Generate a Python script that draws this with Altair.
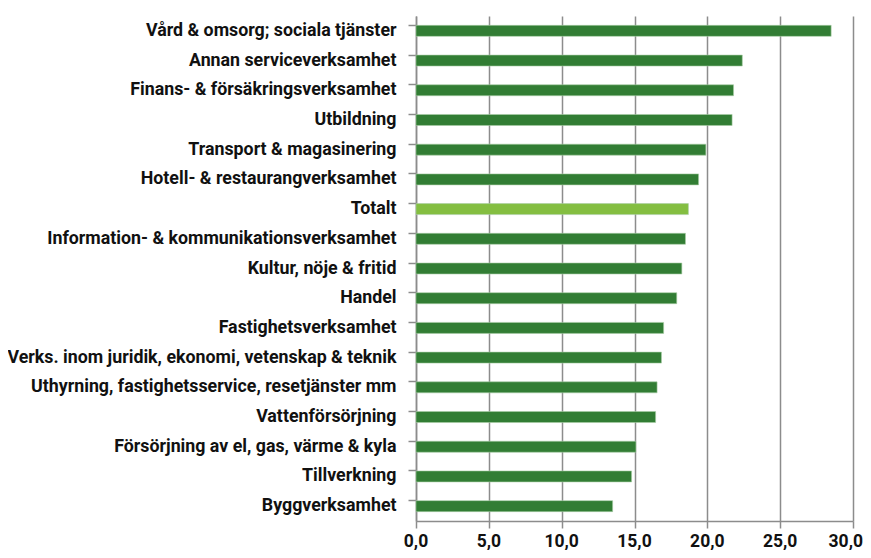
import altair as alt
import pandas as pd

categories = [
    "Vård & omsorg; sociala tjänster",
    "Annan serviceverksamhet",
    "Finans- & försäkringsverksamhet",
    "Utbildning",
    "Transport & magasinering",
    "Hotell- & restaurangverksamhet",
    "Totalt",
    "Information- & kommunikationsverksamhet",
    "Kultur, nöje & fritid",
    "Handel",
    "Fastighetsverksamhet",
    "Verks. inom juridik, ekonomi, vetenskap & teknik",
    "Uthyrning, fastighetsservice, resetjänster mm",
    "Vattenförsörjning",
    "Försörjning av el, gas, värme & kyla",
    "Tillverkning",
    "Byggverksamhet",
]
values = [28.5, 22.4, 21.8, 21.7, 19.9, 19.4, 18.7, 18.5, 18.25, 17.9,
          17.0, 16.85, 16.55, 16.45, 15.1, 14.8, 13.5]
groups = ["Bransch"] * 6 + ["Totalt"] + ["Bransch"] * 10

tick_values = [0, 5, 10, 15, 20, 25, 30]
tick_labels = ["0,0", "5,0", "10,0", "15,0", "20,0", "25,0", "30,0"]

df = pd.DataFrame({"kategori": categories, "varde": values, "grupp": groups})
ticks_df = pd.DataFrame({"varde": tick_values, "etikett": tick_labels})

font = "Roboto"
gray = "#8c8c8c"
x_scale = alt.Scale(domain=[0, 30], nice=False)

bars = (
    alt.Chart(df)
    .mark_bar(stroke="#a9cfa6", strokeWidth=0.6)
    .encode(
        y=alt.Y(
            "kategori:N",
            sort=categories,
            scale=alt.Scale(paddingInner=0.63, paddingOuter=0.315),
            axis=alt.Axis(
                title=None,
                labelFont=font,
                labelFontWeight="bold",
                labelFontSize=17.8,
                labelColor="#111111",
                labelPadding=12,
                labelLimit=420,
                tickSize=8,
                tickColor=gray,
                tickWidth=1.5,
                bandPosition=0,
                domainColor=gray,
                domainWidth=1.5,
                grid=False,
            ),
        ),
        x=alt.X(
            "varde:Q",
            scale=x_scale,
            axis=alt.Axis(
                title=None,
                values=tick_values,
                labels=False,
                tickSize=7,
                tickColor=gray,
                tickWidth=1.5,
                domainColor=gray,
                domainWidth=1.5,
                grid=True,
                gridColor=gray,
                gridWidth=1.5,
            ),
        ),
        color=alt.Color(
            "grupp:N",
            scale=alt.Scale(domain=["Bransch", "Totalt"], range=["#327d34", "#84be41"]),
            legend=None,
        ),
    )
)

text_props = dict(font=font, fontWeight="bold", fontSize=17.5, color="#111111",
                  baseline="alphabetic")

labels_mid = (
    alt.Chart(ticks_df[ticks_df["varde"] < 30])
    .mark_text(align="center", **text_props)
    .encode(x=alt.X("varde:Q", scale=x_scale), y=alt.value(531), text="etikett:N")
)
labels_end = (
    alt.Chart(ticks_df[ticks_df["varde"] == 30])
    .mark_text(align="right", dx=10, **text_props)
    .encode(x=alt.X("varde:Q", scale=x_scale), y=alt.value(531), text="etikett:N")
)

chart = (
    alt.layer(bars, labels_mid, labels_end)
    .properties(
        width=437,
        height=505,
        autosize=alt.AutoSizeParams(type="none"),
        padding={"left": 408, "top": 8, "right": 10, "bottom": 29},
    )
    .configure_view(stroke=None)
)

chart.save("out.html", embed_options={"renderer": "svg", "actions": False})
